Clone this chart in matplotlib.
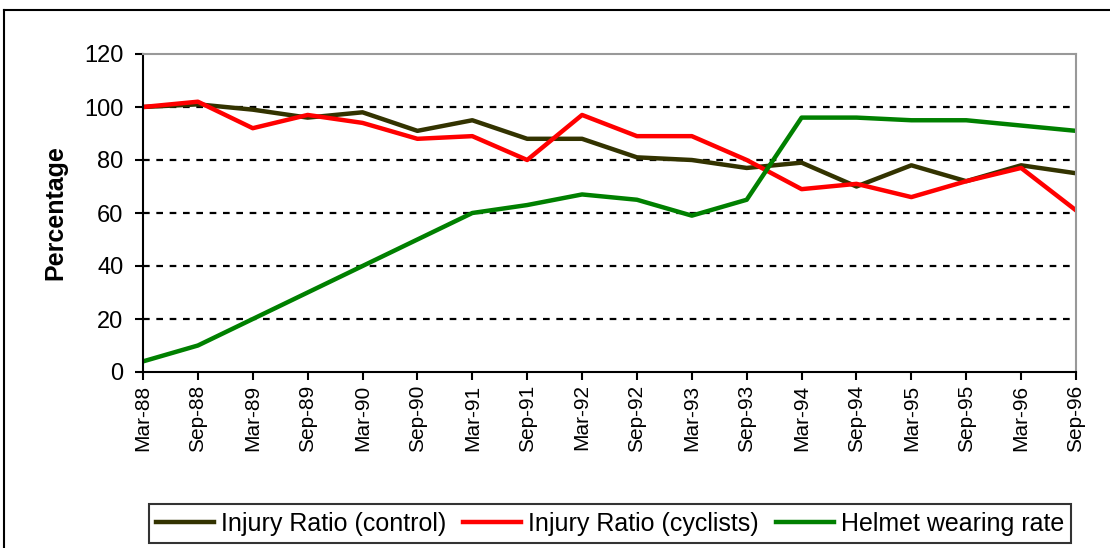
import matplotlib
matplotlib.use('Agg')
import matplotlib.pyplot as plt
from matplotlib.lines import Line2D

plt.rcParams['font.family'] = ['Liberation Sans', 'DejaVu Sans']

# 데이터
periods = ['Mar-88', 'Sep-88', 'Mar-89', 'Sep-89', 'Mar-90', 'Sep-90', 'Mar-91', 'Sep-91',
           'Mar-92', 'Sep-92', 'Mar-93', 'Sep-93', 'Mar-94', 'Sep-94', 'Mar-95', 'Sep-95',
           'Mar-96', 'Sep-96']
injury_control = [100, 101, 99, 96, 98, 91, 95, 88, 88, 81, 80, 77, 79, 70, 78, 72, 78, 75]
injury_cyclists = [100, 102, 92, 97, 94, 88, 89, 80, 97, 89, 89, 80, 69, 71, 66, 72, 77, 61]
helmet_rate = [4, 10, 20, 30, 40, 50, 60, 63, 67, 65, 59, 65, 96, 96, 95, 95, 93, 91]
y_ticks = [0, 20, 40, 60, 80, 100, 120]

W, H = 1110, 548
fig = plt.figure(figsize=(W / 100, H / 100), dpi=100)
ax = fig.add_axes([143 / W, 1 - 372 / H, (1076 - 143) / W, (372 - 54) / H])

x = range(len(periods))
ax.plot(x, injury_control, color='#333300', linewidth=3.2, label='Injury Ratio (control)')
ax.plot(x, injury_cyclists, color='#ff0000', linewidth=3.2, label='Injury Ratio (cyclists)')
ax.plot(x, helmet_rate, color='#008000', linewidth=3.2, label='Helmet wearing rate')

# 축 설정
ax.set_xlim(0, len(periods) - 1)
ax.set_ylim(0, 120)
ax.set_xticks(list(x))
ax.set_xticklabels(periods, rotation=90, fontsize=15)
ax.set_yticks(y_ticks)
ax.tick_params(axis='y', labelsize=17, direction='out', length=6, width=1.5, pad=8)
ax.tick_params(axis='x', direction='out', length=6, width=1.5, pad=3)
ax.set_ylabel('Percentage', fontsize=18, fontweight='bold', labelpad=12)

# 격자
for yv in y_ticks[1:-1]:
    ax.axhline(yv, color='black', linewidth=1.6, linestyle=(0, (3, 3)), zorder=0)

ax.spines['left'].set_linewidth(1.5)
ax.spines['bottom'].set_linewidth(1.5)
for side in ['top', 'right']:
    ax.spines[side].set_color('#999999')
    ax.spines[side].set_linewidth(1.5)

# 범례
leg = fig.legend(loc='center', bbox_to_anchor=(610 / W, 1 - 523.5 / H), ncol=3,
                 fontsize=18, frameon=True, fancybox=False, edgecolor='black',
                 handlelength=2.3, handletextpad=0.28, columnspacing=0.7,
                 borderpad=0.3, borderaxespad=0)
leg.get_frame().set_linewidth(1.5)

# 외곽 테두리
fig.add_artist(Line2D([4 / W, 4 / W], [0, 1 - 10 / H], color='black', linewidth=1.5))
fig.add_artist(Line2D([4 / W, 1], [1 - 10 / H, 1 - 10 / H], color='black', linewidth=1.5))

plt.savefig('out.png', dpi=100)
